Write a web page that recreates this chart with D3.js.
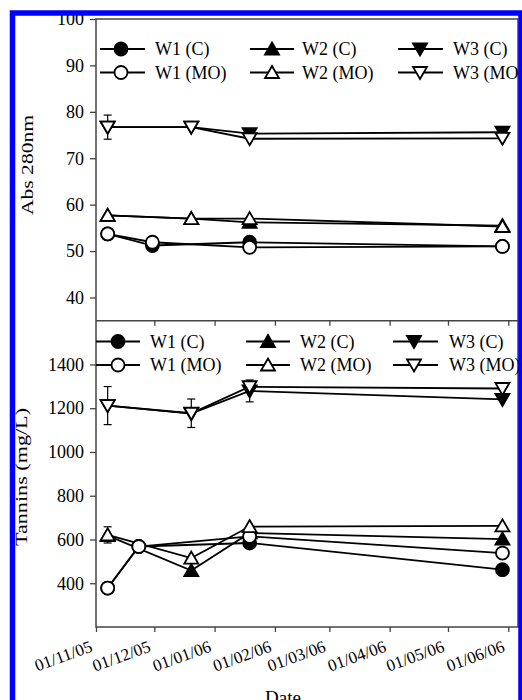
<!DOCTYPE html>
<html>
<head>
<meta charset="utf-8">
<script src="https://cdn.jsdelivr.net/npm/d3@7"></script>
<style>
  body { margin: 0; background: #fff; }
  svg text { font-family: "Liberation Serif", "Times New Roman", serif; fill: #000; }
</style>
</head>
<body>
<svg id="chart" width="522" height="700"></svg>
<script>
// Abs 280nm and tannins over time, three wines, control vs micro-oxygenation

// sampling dates (W1 was sampled on slightly different days)
var absW1Dates = ["2005-11-07", "2005-11-30", "2006-01-19", "2006-05-29"];
var absW23Dates = ["2005-11-07", "2005-12-20", "2006-01-19", "2006-05-29"];
var tanW1Dates = ["2005-11-07", "2005-11-23", "2006-01-19", "2006-05-29"];
var tanW23Dates = ["2005-11-07", "2005-12-20", "2006-01-19", "2006-05-29"];

// top panel: Abs 280nm
var absW1C = [53.7, 51.2, 51.9, 51.0];
var absW1MO = [53.7, 51.9, 50.8, 51.0];
var absW2C = [57.7, 57.0, 56.2, 55.5];
var absW2MO = [57.7, 57.0, 57.0, 55.3];
var absW3C = [76.7, 76.7, 75.3, 75.6];
var absW3MO = [76.7, 76.7, 74.2, 74.3];
var absW3MOErr = [2.6, 0, 0, 0];

// bottom panel: tannins (mg/L)
var tanW1C = [378, 568, 584, 462];
var tanW1MO = [378, 568, 614, 538];
var tanW2C = [618, 458, 630, 602];
var tanW2MO = [621, 515, 659, 662];
var tanW3C = [1212, 1175, 1279, 1240];
var tanW3MO = [1212, 1177, 1298, 1290];
var tanW2MOErr = [37, 0, 0, 0];
var tanW3CErr = [0, 0, 50, 0];
var tanW3MOErr = [87, 65, 0, 24];

var legendLabels = ["W1 (C)", "W2 (C)", "W3 (C)", "W1 (MO)", "W2 (MO)", "W3 (MO)"];
var absTicks = [40, 50, 60, 70, 80, 90, 100];
var tanTicks = [400, 600, 800, 1000, 1200, 1400];

var svg = d3.select("#chart");
var parse = d3.utcParse("%Y-%m-%d");
var fmt = d3.utcFormat("%d/%m/%y");

// plot box (note: "top" is reserved on window, so plotTop)
var plotLeft = 96, plotRight = 518, plotTop = 19, plotMid = 320.7, plotBottom = 627;

var x = d3.scaleUtc()
    .domain([parse("2005-11-01"), parse("2006-06-06")])
    .range([plotLeft, plotRight]);
var yAbs = d3.scaleLinear().domain([35, 100]).range([plotMid, plotTop]);
var yTan = d3.scaleLinear().domain([200, 1600]).range([plotBottom, plotMid]);

var monthTicks = d3.utcMonth.range(parse("2005-11-01"), parse("2006-06-02"));

// marker shapes
function marker(g, kind, filled, cx, cy) {
    var fill = filled ? "#000" : "#fff";
    if (kind == "circle") {
        g.append("circle").attr("cx", cx).attr("cy", cy).attr("r", 6.5)
         .attr("fill", fill).attr("stroke", "#000").attr("stroke-width", 1.8);
    } else {
        var s = kind == "up" ? 1 : -1;
        var pts = [[cx, cy - 6.5 * s], [cx + 7, cy + 5.5 * s], [cx - 7, cy + 5.5 * s]];
        g.append("path").attr("d", "M" + pts.join("L") + "Z")
         .attr("fill", fill).attr("stroke", "#000").attr("stroke-width", 1.8)
         .attr("stroke-linejoin", "miter");
    }
}

function drawPanel(y, series) {
    var g = svg.append("g");
    var line = d3.line().x(function(d) { return x(d.date); }).y(function(d) { return y(d.v); });

    series.forEach(function(s) {
        var pts = s.dates.map(function(d, i) { return { date: parse(d), v: s.values[i] }; });
        s.pts = pts;
        g.append("path").datum(pts).attr("d", line)
         .attr("fill", "none").attr("stroke", "#000").attr("stroke-width", 1.8);
    });
    series.forEach(function(s) {
        if (!s.err) return;
        s.pts.forEach(function(p, i) {
            var e = s.err[i];
            if (!e) return;
            var cx = x(p.date);
            g.append("line").attr("x1", cx).attr("x2", cx)
             .attr("y1", y(p.v - e)).attr("y2", y(p.v + e))
             .attr("stroke", "#000").attr("stroke-width", 1.2);
            [p.v - e, p.v + e].forEach(function(v) {
                g.append("line").attr("x1", cx - 4).attr("x2", cx + 4)
                 .attr("y1", y(v)).attr("y2", y(v))
                 .attr("stroke", "#000").attr("stroke-width", 1.2);
            });
        });
    });
    series.forEach(function(s) {
        s.pts.forEach(function(p) { marker(g, s.kind, s.filled, x(p.date), y(p.v)); });
    });
}

drawPanel(yAbs, [
    { dates: absW1Dates, values: absW1C, kind: "circle", filled: true },
    { dates: absW23Dates, values: absW2C, kind: "up", filled: true },
    { dates: absW23Dates, values: absW3C, kind: "down", filled: true },
    { dates: absW1Dates, values: absW1MO, kind: "circle", filled: false },
    { dates: absW23Dates, values: absW2MO, kind: "up", filled: false },
    { dates: absW23Dates, values: absW3MO, kind: "down", filled: false, err: absW3MOErr }
]);

drawPanel(yTan, [
    { dates: tanW1Dates, values: tanW1C, kind: "circle", filled: true },
    { dates: tanW23Dates, values: tanW2C, kind: "up", filled: true },
    { dates: tanW23Dates, values: tanW3C, kind: "down", filled: true, err: tanW3CErr },
    { dates: tanW1Dates, values: tanW1MO, kind: "circle", filled: false },
    { dates: tanW23Dates, values: tanW2MO, kind: "up", filled: false, err: tanW2MOErr },
    { dates: tanW23Dates, values: tanW3MO, kind: "down", filled: false, err: tanW3MOErr }
]);

// frame and axes
var axisColor = "#444";
svg.append("rect").attr("x", plotLeft).attr("y", plotTop)
   .attr("width", plotRight - plotLeft).attr("height", plotBottom - plotTop)
   .attr("fill", "none").attr("stroke", axisColor).attr("stroke-width", 1.5);
svg.append("line").attr("x1", plotLeft).attr("x2", plotRight).attr("y1", plotMid).attr("y2", plotMid)
   .attr("stroke", axisColor).attr("stroke-width", 1.5);

function styleAxis(g) {
    g.select(".domain").remove();
    g.selectAll(".tick line").attr("stroke", axisColor).attr("stroke-width", 1.3);
    g.selectAll(".tick text").attr("font-size", 18).attr("font-family", "Liberation Serif").attr("fill", "#000");
}

svg.append("g").attr("transform", "translate(" + plotLeft + ",0)")
   .call(d3.axisLeft(yAbs).tickValues(absTicks).tickSize(6).tickPadding(6).tickFormat(d3.format("d")))
   .call(styleAxis);
svg.append("g").attr("transform", "translate(" + plotLeft + ",0)")
   .call(d3.axisLeft(yTan).tickValues(tanTicks).tickSize(6).tickPadding(6).tickFormat(d3.format("d")))
   .call(styleAxis);

// month ticks under both panels
svg.append("g").attr("transform", "translate(0," + plotMid + ")")
   .call(d3.axisBottom(x).tickValues(monthTicks.slice(1)).tickSize(5).tickFormat(""))
   .call(styleAxis);
var xAxis = svg.append("g").attr("transform", "translate(0," + plotBottom + ")")
   .call(d3.axisBottom(x).tickValues(monthTicks).tickSize(5).tickFormat(fmt))
   .call(styleAxis);
xAxis.selectAll(".tick text")
   .attr("font-size", 17)
   .attr("text-anchor", "end")
   .attr("dy", null).attr("y", null)
   .attr("transform", "translate(-3,24) rotate(-20)");

// axis titles
svg.append("text").attr("transform", "translate(33,165) rotate(-90)")
   .attr("text-anchor", "middle").attr("font-size", 17)
   .attr("textLength", 100).attr("lengthAdjust", "spacingAndGlyphs")
   .text("Abs 280nm");
svg.append("text").attr("transform", "translate(27,477) rotate(-90)")
   .attr("text-anchor", "middle").attr("font-size", 17)
   .attr("textLength", 138).attr("lengthAdjust", "spacingAndGlyphs")
   .text("Tannins (mg/L)");
svg.append("text").attr("x", 283).attr("y", 704).attr("text-anchor", "middle")
   .attr("font-size", 19).text("Date");

// legends
var legendKinds = [["circle", true], ["up", true], ["down", true], ["circle", false], ["up", false], ["down", false]];
function drawLegend(rows, cols) {
    var g = svg.append("g");
    legendLabels.forEach(function(lbl, i) {
        var c = cols[i % 3], yy = rows[Math.floor(i / 3)];
        g.append("line").attr("x1", c.x0).attr("x2", c.x1).attr("y1", yy).attr("y2", yy)
         .attr("stroke", "#000").attr("stroke-width", 1.8);
        marker(g, legendKinds[i][0], legendKinds[i][1], c.m, yy);
        g.append("text").attr("x", c.t).attr("y", yy + 6).attr("font-size", 18).text(lbl);
    });
}
drawLegend([49, 72.5], [
    { x0: 100, x1: 145, m: 121, t: 155 },
    { x0: 250, x1: 294, m: 272, t: 302 },
    { x0: 398, x1: 443, m: 420, t: 453 }
]);
drawLegend([341.5, 365], [
    { x0: 96, x1: 140, m: 118, t: 150 },
    { x0: 246, x1: 290, m: 268, t: 300 },
    { x0: 393, x1: 438, m: 414, t: 449 }
]);

// blue frame around the figure
svg.append("path")
   .attr("d", "M12.5,712 L12.5,13 L521,13 L521,712")
   .attr("fill", "none").attr("stroke", "#0000ff").attr("stroke-width", 5.5);
</script>
</body>
</html>
